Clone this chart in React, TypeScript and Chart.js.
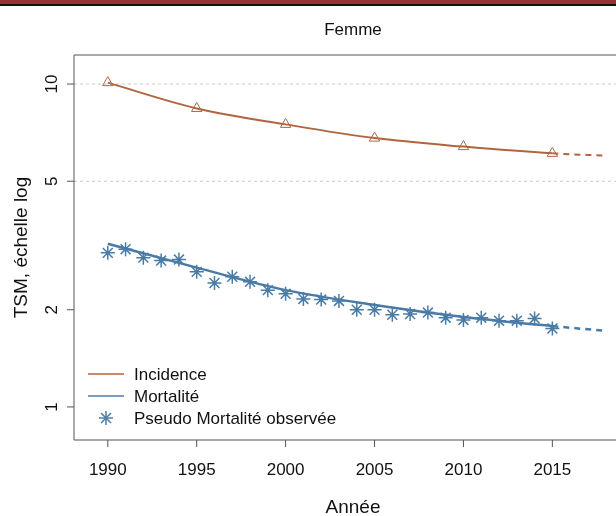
import React, { useEffect, useRef } from "react";
import { Chart, registerables } from "chart.js";

Chart.register(...registerables);

const fitYears = [1990, 1995, 2000, 2005, 2010, 2015, 2018];
const incidence = [10.1, 8.4, 7.5, 6.8, 6.4, 6.1, 6.0];
const mortalityFit = [3.2, 2.7, 2.3, 2.07, 1.9, 1.78, 1.72];
const obsYears = [
  1990, 1991, 1992, 1993, 1994, 1995, 1996, 1997, 1998, 1999, 2000, 2001, 2002,
  2003, 2004, 2005, 2006, 2007, 2008, 2009, 2010, 2011, 2012, 2013, 2014, 2015,
];
const mortalityObs = [
  3.0, 3.08, 2.9, 2.84, 2.86, 2.62, 2.42, 2.53, 2.44, 2.3, 2.24, 2.16, 2.15,
  2.13, 2.0, 2.0, 1.93, 1.94, 1.96, 1.89, 1.86, 1.89, 1.85, 1.85, 1.88, 1.75,
];
const xTicks = [1990, 1995, 2000, 2005, 2010, 2015];
const yTicks = [1, 2, 5, 10];
const yGrid = [5, 10];

const BROWN = "#b0653f";
const BLUE = "#4a7ba6";
const FONT = "Liberation Sans, Arial, sans-serif";

const rPlot = {
  id: "rPlot",
  beforeDatasetsDraw(chart: any) {
    const { ctx, chartArea: a, scales, width } = chart;
    ctx.save();
    ctx.strokeStyle = "#c8c8c8";
    ctx.setLineDash([3, 3]);
    ctx.lineWidth = 1;
    yGrid.forEach((v) => {
      const y = scales.y.getPixelForValue(v);
      ctx.beginPath();
      ctx.moveTo(a.left, y);
      ctx.lineTo(width, y);
      ctx.stroke();
    });
    ctx.restore();
  },
  afterDraw(chart: any) {
    const { ctx, chartArea: a, scales, width } = chart;
    ctx.save();
    // top banner
    ctx.fillStyle = "#993333";
    ctx.fillRect(0, 0, width, 4);
    ctx.fillStyle = "#111";
    ctx.fillRect(0, 4, width, 2);
    // frame (right side is cut off)
    ctx.strokeStyle = "#555";
    ctx.lineWidth = 1;
    ctx.beginPath();
    ctx.moveTo(width, a.top);
    ctx.lineTo(a.left, a.top);
    ctx.lineTo(a.left, a.bottom);
    ctx.lineTo(width, a.bottom);
    ctx.stroke();
    ctx.fillStyle = "#111";
    ctx.font = `17px ${FONT}`;
    ctx.textAlign = "center";
    ctx.textBaseline = "middle";
    ctx.fillText("Femme", 353, 30);
    // x ticks
    ctx.font = `17px ${FONT}`;
    xTicks.forEach((v) => {
      const x = scales.x.getPixelForValue(v);
      ctx.beginPath();
      ctx.moveTo(x, a.bottom);
      ctx.lineTo(x, a.bottom + 7);
      ctx.stroke();
      ctx.fillText(String(v), x, a.bottom + 30);
    });
    ctx.font = `19px ${FONT}`;
    ctx.fillText("Année", 353, 508);
    // y ticks
    ctx.font = `17px ${FONT}`;
    yTicks.forEach((v) => {
      const y = scales.y.getPixelForValue(v);
      ctx.beginPath();
      ctx.moveTo(a.left, y);
      ctx.lineTo(a.left - 7, y);
      ctx.stroke();
      ctx.save();
      ctx.translate(a.left - 22, y);
      ctx.rotate(-Math.PI / 2);
      ctx.fillText(String(v), 0, 0);
      ctx.restore();
    });
    ctx.save();
    ctx.font = `19px ${FONT}`;
    ctx.translate(22, (a.top + a.bottom) / 2);
    ctx.rotate(-Math.PI / 2);
    ctx.fillText("TSM, échelle log", 0, 0);
    ctx.restore();
    // legend
    ctx.font = `17px ${FONT}`;
    ctx.textAlign = "left";
    const items = [
      { label: "Incidence", color: BROWN, y: 374 },
      { label: "Mortalité", color: BLUE, y: 396 },
      { label: "Pseudo Mortalité observée", color: BLUE, y: 418 },
    ];
    items.forEach((it, i) => {
      ctx.strokeStyle = it.color;
      ctx.lineWidth = 1.5;
      if (i < 2) {
        ctx.beginPath();
        ctx.moveTo(88, it.y);
        ctx.lineTo(124, it.y);
        ctx.stroke();
      } else {
        for (let k = 0; k < 4; k++) {
          const ang = (k * Math.PI) / 4;
          ctx.beginPath();
          ctx.moveTo(106 - 7 * Math.cos(ang), it.y - 7 * Math.sin(ang));
          ctx.lineTo(106 + 7 * Math.cos(ang), it.y + 7 * Math.sin(ang));
          ctx.stroke();
        }
      }
      ctx.fillStyle = "#111";
      ctx.fillText(it.label, 134, it.y + 1);
    });
    ctx.restore();
  },
};

const dashAfter2015 = {
  borderDash: (c: any) => (c.p0.parsed.x >= 2015 ? [6, 5] : undefined),
};

const App: React.FC = () => {
  const ref = useRef<HTMLCanvasElement>(null);
  useEffect(() => {
    if (!ref.current) return;
    const chart = new Chart(ref.current, {
      type: "line",
      data: {
        datasets: [
          {
            label: "Incidence",
            data: fitYears.map((x, i) => ({ x, y: incidence[i] })),
            borderColor: BROWN,
            backgroundColor: "transparent",
            borderWidth: 2,
            cubicInterpolationMode: "monotone",
            pointStyle: "triangle",
            pointRadius: (c: any) => (c.raw && c.raw.x > 2015 ? 0 : 6),
            pointBorderColor: BROWN,
            pointBorderWidth: 1,
            segment: dashAfter2015,
          },
          {
            label: "Mortalité",
            data: fitYears.map((x, i) => ({ x, y: mortalityFit[i] })),
            borderColor: BLUE,
            borderWidth: 2.5,
            cubicInterpolationMode: "monotone",
            pointRadius: 0,
            segment: dashAfter2015,
          },
          {
            label: "Pseudo Mortalité observée",
            data: obsYears.map((x, i) => ({ x, y: mortalityObs[i] })),
            showLine: false,
            pointStyle: "star",
            pointRadius: 7,
            pointBorderColor: BLUE,
            pointBorderWidth: 1.5,
          },
        ],
      },
      options: {
        animation: false,
        responsive: false,
        layout: { padding: { top: 55, right: 0, left: 0, bottom: 0 } },
        plugins: { legend: { display: false }, tooltip: { enabled: false } },
        scales: {
          x: {
            type: "linear",
            min: 1988.1,
            max: 2018.1,
            grid: { display: false },
            border: { display: false },
            ticks: { display: false },
            afterFit: (s: any) => {
              s.height = 76;
            },
          },
          y: {
            type: "logarithmic",
            min: 0.79,
            max: 12.3,
            grid: { display: false },
            border: { display: false },
            ticks: { display: false },
            afterFit: (s: any) => {
              s.width = 74;
            },
          },
        },
      },
      plugins: [rPlot],
    } as any);
    return () => chart.destroy();
  }, []);
  return (
    <div style={{ position: "fixed", left: 0, top: 0, background: "#fff" }}>
      <canvas ref={ref} width={616} height={516} />
    </div>
  );
};

export default App;
